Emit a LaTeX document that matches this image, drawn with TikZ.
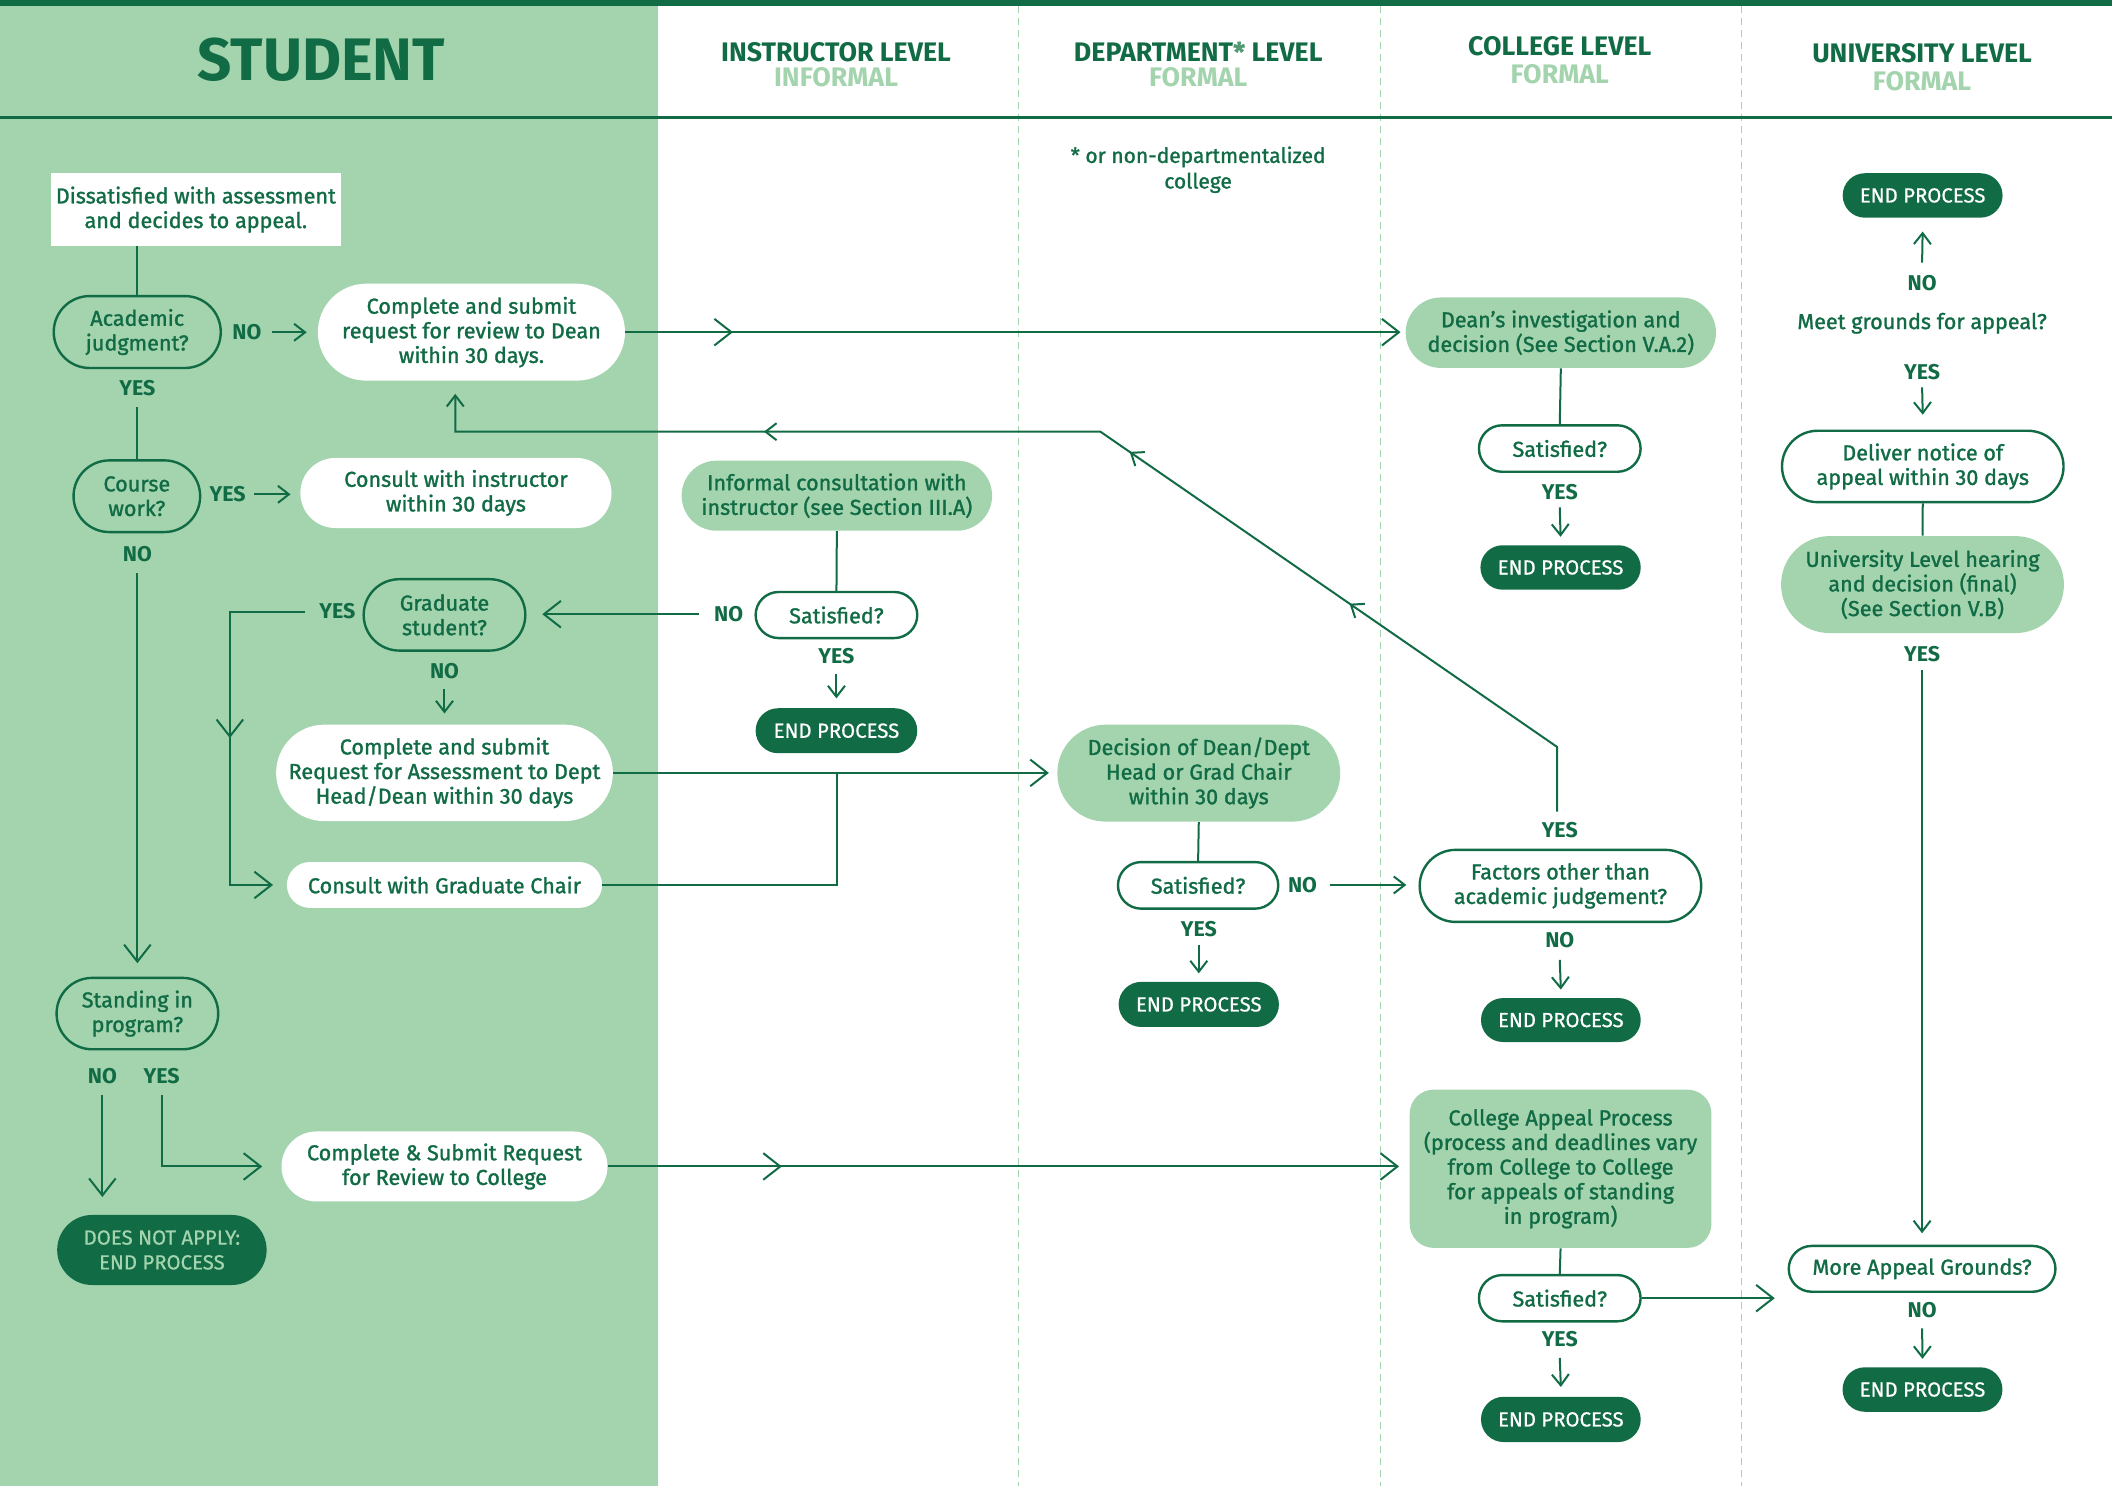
\documentclass[tikz,border=0pt]{standalone}
\usepackage{fontspec}
\setmainfont{Fira Sans}[UprightFeatures={FakeBold=1.3}]
\newfontfamily\hdfont{Fira Sans}[UprightFont=*, UprightFeatures={FakeBold=0}, BoldFont=* Bold]
\newfontfamily\rgfont{Fira Sans}[FakeBold=0.6]
\usetikzlibrary{arrows.meta,decorations.markings,calc}
\definecolor{dg}{HTML}{116B45}
\definecolor{lg}{HTML}{A3D4AE}
\newcommand\myfs[2]{\fontsize{#1}{#2}\selectfont}
\begin{document}
\begin{tikzpicture}[x=0.6735pt,y=-0.6735pt,
  every node/.style={text=dg, align=center, inner sep=0pt, font=\myfs{10.8}{12.3}},
  pill/.style 2 args={rectangle, minimum width=#1*0.6735pt, minimum height=#2*0.6735pt, rounded corners=#2*0.336pt},
  obox/.style={draw=dg, line width=1.2pt},
  wbox/.style={fill=white},
  gbox/.style={fill=lg},
  dbox/.style={fill=dg, text=white, font=\rgfont\myfs{10.2}{12.4}},
  lab/.style={font=\bfseries\myfs{10.7}{12}},
  hd/.style={font=\hdfont\bfseries\myfs{13.4}{13}},
  hdsub/.style={font=\hdfont\bfseries\myfs{13.4}{13}, text=lg},
  conn/.style={draw=dg, line width=1pt},
  barr/.style={-{Straight Barb[length=8.5pt,width=13.3pt]}},
  sarr/.style={-{Straight Barb[length=5.5pt,width=8.5pt]}},
  midb/.style={postaction={decorate}, decoration={markings, mark=at position #1 with {\arrow{Straight Barb[length=8.5pt,width=13.3pt]}}}},
  dashline/.style={draw=lg, line width=0.6pt, dash pattern=on 3.5pt off 2.5pt},
]
\useasboundingbox (0,0) rectangle (1568,1103);
% background
\fill[dg] (0,0) rectangle (1568,4.2);
\fill[lg] (0,4.2) rectangle (488.2,1103);
\foreach \xx in {756,1025,1293} \draw[dashline] (\xx,4.2) -- (\xx,1103);
\draw[dg, line width=1.3pt] (0,87.2) -- (1568,87.2);

% headers
\node[hd, font=\hdfont\bfseries\myfs{30}{30}] (stu) at (238.6,44.5) {STUDENT};
\node[hd] (hi1) at (620.7,38.4) {INSTRUCTOR LEVEL};
\node[hdsub] (hi2) at (620.7,57.4) {INFORMAL};
\node[hd] (hd1) at (889.6,38.4) {DEPARTMENT\textcolor{dg!55!lg}{\rgfont*} LEVEL};
\node[hdsub] (hd2) at (889.6,57.4) {FORMAL};
\node[hd] (hc1) at (1158,34) {COLLEGE LEVEL};
\node[hdsub] (hc2) at (1158,54.8) {FORMAL};
\node[hd] (hu1) at (1427,39.4) {UNIVERSITY LEVEL};
\node[hdsub] (hu2) at (1427,60) {FORMAL};
\node[font=\myfs{10.5}{12.8}] (fn) at (889.5,126) {* or non-departmentalized\\college};

% student column
\node[wbox, rectangle, minimum width=215*0.6735pt, minimum height=53.6*0.6735pt] (start) at (145.4,155.6) {Dissatisfied with assessment\\and decides to appeal.};
\node[obox, pill={124}{53.4}] (acad) at (101.9,246.5) {Academic\\judgment?};
\node[lab] (no1) at (183.3,246.7) {NO};
\node[wbox, pill={228}{72}] (cdean) at (350,246.6) {Complete and submit\\request for review to Dean\\within 30 days.};
\node[lab] (yes1) at (102,288.3) {YES};
\node[obox, pill={94}{53.2}] (course) at (101.6,368.4) {Course\\work?};
\node[lab] (yes2) at (169,367) {YES};
\node[wbox, pill={231}{52}] (cinst) at (338.5,366) {Consult with instructor\\within 30 days};
\node[lab] (no2) at (102,411) {NO};
\node[obox, pill={120}{53}] (gradq) at (330,456.5) {Graduate\\student?};
\node[lab] (yes4) at (250.5,454) {YES};
\node[lab] (no5) at (330,498.5) {NO};
\node[wbox, pill={250}{71.6}] (creq) at (330,573.8) {Complete and submit\\Request for Assessment to Dept\\Head/Dean within 30 days};
\node[wbox, pill={234}{34}] (ccg) at (330,657) {Consult with Graduate Chair};
\node[obox, pill={120}{53}] (stand) at (102,752.5) {Standing in\\program?};
\node[lab] (no3) at (76,799) {NO};
\node[lab] (yes3) at (120,799) {YES};
\node[dbox, pill={155.5}{52}, text=lg] (dna) at (120.2,928) {DOES NOT APPLY:\\END PROCESS};
\node[wbox, pill={242}{52}] (csc) at (330,866) {Complete \& Submit Request\\for Review to College};

% instructor column
\node[gbox, pill={230.5}{52}] (inf) at (621.3,368) {Informal consultation with\\instructor (see Section III.A)};
\node[obox, pill={120}{34.2}] (sat1) at (621,456.6) {Satisfied?};
\node[lab] (no4) at (541,456) {NO};
\node[lab] (yes5) at (621,487) {YES};
\node[dbox, pill={120}{33.4}] (end1) at (621,542.5) {END PROCESS};

% department column
\node[gbox, pill={210}{72}] (dec) at (890,574) {Decision of Dean/Dept\\Head or Grad Chair\\within 30 days};
\node[obox, pill={119}{34.6}] (sat2) at (889.5,657.3) {Satisfied?};
\node[lab] (no6) at (967,657) {NO};
\node[lab] (yes6) at (890,689.4) {YES};
\node[dbox, pill={119}{33.5}] (end2) at (890,745.7) {END PROCESS};

% college column
\node[gbox, pill={230.4}{52.3}] (dean) at (1158.8,247) {Dean’s investigation and\\decision (See Section V.A.2)};
\node[obox, pill={120}{34.5}] (sat3) at (1158,333) {Satisfied?};
\node[lab] (yes7) at (1158,365.6) {YES};
\node[dbox, pill={119}{33}] (end3) at (1158.6,421.3) {END PROCESS};
\node[lab] (yes8) at (1158,616.6) {YES};
\node[obox, pill={209}{53.5}] (fac) at (1158.5,657.7) {Factors other than\\academic judgement?};
\node[lab] (no7) at (1158,698) {NO};
\node[dbox, pill={118.6}{32.6}] (end4) at (1158.8,757.3) {END PROCESS};
\node[gbox, rectangle, rounded corners=12pt, minimum width=224*0.6735pt, minimum height=117.5*0.6735pt, font=\myfs{10.8}{12.3}] (cap) at (1158.6,867.7) {College Appeal Process\\(process and deadlines vary\\from College to College\\for appeals of standing\\in program)};
\node[obox, pill={120}{34.3}] (sat4) at (1158,963.8) {Satisfied?};
\node[lab] (yes9) at (1158,994) {YES};
\node[dbox, pill={118.6}{33.6}] (end5) at (1158.8,1053.8) {END PROCESS};

% university column
\node[dbox, pill={118.7}{33}] (uend1) at (1427.4,145.1) {END PROCESS};
\node[lab] (no8) at (1427,210) {NO};
\node (meet) at (1427,240) {Meet grounds for appeal?};
\node[lab] (yes10) at (1427,276) {YES};
\node[obox, pill={209}{53}] (deliver) at (1427.5,346.3) {Deliver notice of\\appeal within 30 days};
\node[gbox, pill={210}{72}] (hear) at (1427.3,434) {University Level hearing\\and decision (final)\\(See Section V.B)};
\node[lab] (yes11) at (1427,485.3) {YES};
\node[obox, pill={198}{34}] (mag) at (1427,942) {More Appeal Grounds?};
\node[lab] (no9) at (1427,972.6) {NO};
\node[dbox, pill={118.7}{33}] (uend2) at (1427.3,1031.6) {END PROCESS};

% connectors: student column
\draw[conn] (acad.north |- start.south) -- (acad.north);
\draw[conn,sarr] ($(no1.east)+(7.5,0)$) -- ($(no1.east -| cdean.west)+(-8,0)$);
\draw[conn,barr,midb=53.8pt] (cdean.east) -- ($(cdean.east -| dean.west)+(-3.5,0)$);
\draw[conn] ($(yes1.south)+(0,8)$) -- (yes1.south |- course.north);
\draw[conn,sarr] ($(yes2.east)+(6,0)$) -- ($(yes2.east -| cinst.west)+(-7,0)$);
\draw[conn,barr] ($(no2.south)+(0,8.5)$) -- ($(no2.south |- stand.north)+(0,-10)$);
\draw[conn,barr] ($(no3.south)+(0,7.5)$) -- ($(no3.south |- dna.north)+(0,-13)$);
\draw[conn,barr] ($(yes3.south)+(0,7.5)$) |- ($(csc.west)+(-14,0)$);
\draw[conn,barr,midb=87pt] (csc.east) -- ($(csc.east -| cap.west)+(-7.6,0)$);
\draw[conn,barr] ($(no4.west)+(-11,0)$) -- ($(no4.west -| gradq.east)+(11.7,0)$);
\draw[conn,barr,midb=100.8pt] ($(yes4.west)+(-10.5,0)$) -- ++(-55.7,0) |- ($(ccg.west)+(-10,0)$);
\draw[conn,sarr] ($(no5.south)+(0,7)$) -- ($(creq.north)+(0,-8)$);
\draw[conn,barr] (creq.east) -- ($(creq.east -| dec.west)+(-6,0)$);
\draw[conn] (ccg.east) -| (inf.south |- creq.east);

% instructor
\draw[conn] (inf.south) -- (sat1.north);
\draw[conn,sarr] ($(yes5.south)+(0,7)$) -- ($(end1.north)+(0,-7)$);

% department
\draw[conn] (dec.south) -- (sat2.north);
\draw[conn,sarr] ($(no6.east)+(9,0)$) -- ($(no6.east -| fac.west)+(-9,0)$);
\draw[conn,sarr] ($(yes6.south)+(0,6)$) -- ($(end2.north)+(0,-6)$);

% college
\draw[conn] (dean.south) -- (sat3.north);
\draw[conn,sarr] ($(yes7.south)+(0,5)$) -- ($(end3.north)+(0,-6)$);
\draw[conn,sarr,postaction={decorate},decoration={markings,
  mark=at position 158.4pt with {\arrow{Straight Barb[length=5.5pt,width=8.5pt]}},
  mark=at position 292pt with {\arrow{Straight Barb[length=5.5pt,width=8.5pt]}},
  mark=at position 478pt with {\arrow{Straight Barb[length=5.5pt,width=8.5pt]}}}]
  ($(yes8.north)+(-2,-8)$) -- ++(0,-48) -- (817,320.5) -| ($(cdean.south)+(-12,9.5)$);
\draw[conn,sarr] ($(no7.south)+(0,8.5)$) -- ($(end4.north)+(0,-6)$);
\draw[conn] (cap.south) -- (sat4.north);
\draw[conn,barr] (sat4.east) -- ($(sat4.east -| mag.west)+(-9.5,0)$);
\draw[conn,sarr] ($(yes9.south)+(0,8)$) -- ($(end5.north)+(0,-7)$);

% university
\draw[conn,sarr] ($(no8.north)+(0,-9)$) -- ($(uend1.south)+(0,10)$);
\draw[conn,sarr] ($(yes10.south)+(0,5.5)$) -- ($(deliver.north)+(0,-11)$);
\draw[conn] (deliver.south) -- (hear.north);
\draw[conn,sarr] ($(yes11.south)+(0,6)$) -- ($(mag.north)+(0,-8.5)$);
\draw[conn,sarr] ($(no9.south)+(0,7.5)$) -- ($(uend2.north)+(0,-6)$);
\end{tikzpicture}
\end{document}
